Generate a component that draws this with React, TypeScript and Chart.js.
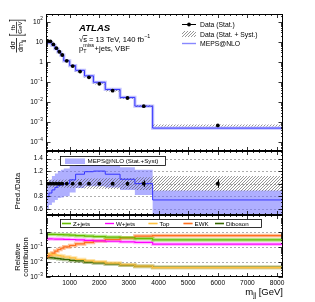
import React, { useEffect, useRef } from 'react';
import { Chart, registerables } from 'chart.js';

Chart.register(...registerables);

const FONT = '"Liberation Sans", Arial, Helvetica, sans-serif';

// ---------------- data ----------------
const binEdges = [200, 300, 400, 500, 600, 700, 800, 1000, 1200, 1500, 1800, 2200, 2700, 3200, 3800, 8200];
const dataXsec = [11.2, 10.5, 7.4, 4.8, 3.2, 2.2, 1.13, 0.62, 0.33, 0.17, 0.081, 0.037, 0.016, 0.0063, 0.00069];
const dataStatRel = [0.01, 0.01, 0.01, 0.01, 0.01, 0.012, 0.012, 0.014, 0.016, 0.02, 0.022, 0.027, 0.035, 0.05, 0.065];
const dataSystRel = [0.07, 0.06, 0.06, 0.06, 0.06, 0.06, 0.065, 0.07, 0.075, 0.08, 0.08, 0.085, 0.09, 0.1, 0.12];
const mepsXsec = [8.85, 8.93, 6.66, 4.51, 3.1, 2.16, 1.13, 0.657, 0.38, 0.202, 0.0972, 0.0426, 0.0171, 0.0063, 0.00051];
const ratioData = [1, 1, 1, 1, 1, 1, 1, 1, 1, 1, 1, 1, 1, 1, 1];
const ratioMeps = [0.79, 0.85, 0.9, 0.94, 0.97, 0.98, 1.0, 1.06, 1.15, 1.19, 1.2, 1.15, 1.07, 1.0, 0.74];
const ratioMepsLo = [0.6, 0.66, 0.7, 0.74, 0.77, 0.78, 0.8, 0.86, 0.93, 0.96, 0.96, 0.94, 0.9, 0.82, 0.47];
const ratioMepsHi = [1.02, 1.06, 1.12, 1.16, 1.2, 1.22, 1.24, 1.28, 1.3, 1.3, 1.3, 1.28, 1.26, 1.22, 0.89];
const fracZjets = [0.74, 0.73, 0.72, 0.71, 0.7, 0.69, 0.67, 0.64, 0.6, 0.56, 0.52, 0.47, 0.43, 0.38, 0.31];
const fracWjets = [0.36, 0.36, 0.355, 0.35, 0.35, 0.345, 0.34, 0.33, 0.31, 0.29, 0.27, 0.25, 0.23, 0.21, 0.16];
const fracTop = [0.036, 0.034, 0.031, 0.029, 0.027, 0.025, 0.022, 0.019, 0.015, 0.012, 0.0105, 0.0085, 0.0066, 0.0053, 0.0043];
const fracEWK = [0.022, 0.03, 0.04, 0.055, 0.07, 0.085, 0.105, 0.13, 0.165, 0.21, 0.26, 0.33, 0.42, 0.55, 0.6];
const fracDiboson = [0.021, 0.02, 0.019, 0.018, 0.017, 0.016, 0.015, 0.013, 0.012, 0.01, 0.0088, 0.0075, 0.0062, 0.0052, 0.0044];

const xTickValues = [1000, 2000, 3000, 4000, 5000, 6000, 7000, 8000];
const xTickLabels = ['1000', '2000', '3000', '4000', '5000', '6000', '7000', '8000'];
const topYTicks = [100, 10, 1, 0.1, 0.01, 0.001, 0.0001];
const topYTickLabels: [string, string][] = [['10', '2'], ['10', ''], ['1', ''], ['10', '\u22121'], ['10', '\u22122'], ['10', '\u22123'], ['10', '\u22124']];
const ratioYTicks = [0.6, 0.8, 1, 1.2, 1.4];
const ratioYTickLabels: [string, string][] = [['0.6', ''], ['0.8', ''], ['1', ''], ['1.2', ''], ['1.4', '']];
const relYTicks = [1, 0.1, 0.01, 0.001];
const relYTickLabels: [string, string][] = [['1', ''], ['10', '\u22121'], ['10', '\u22122'], ['10', '\u22123']];

// ---------------- styles ----------------
const MEPS_LINE = '#3434ff';
const MEPS_BAND = 'rgba(110,110,255,0.55)';
const MEPS_HALO = 'rgba(90,90,255,0.35)';
const REL_STYLE = [
  { name: 'Z+jets', values: fracZjets, line: '#66bb00', band: 'rgba(120,210,40,0.55)' },
  { name: 'W+jets', values: fracWjets, line: '#ff00ff', band: 'rgba(255,60,255,0.35)' },
  { name: 'Top', values: fracTop, line: '#ffc040', band: 'rgba(255,205,100,0.55)' },
  { name: 'EWK', values: fracEWK, line: '#ff7020', band: 'rgba(255,130,50,0.5)' },
  { name: 'Diboson', values: fracDiboson, line: '#336600', band: 'rgba(70,110,10,0.45)' },
];

const binCenters = binEdges.slice(0, -1).map((e, i) => (e + binEdges[i + 1]) / 2);
function stepData(values: number[]) {
  const pts = values.map((v, i) => ({ x: binEdges[i], y: v }));
  pts.push({ x: binEdges[binEdges.length - 1], y: values[values.length - 1] });
  return pts;
}
function pointData(values: number[]) {
  return values.map((v, i) => ({ x: binCenters[i], y: v }));
}

function makeHatch(ctx: CanvasRenderingContext2D) {
  const c = document.createElement('canvas');
  c.width = 3;
  c.height = 3;
  const g = c.getContext('2d')!;
  g.strokeStyle = 'rgba(90,90,90,0.9)';
  g.lineWidth = 0.7;
  g.beginPath();
  g.moveTo(0, 3); g.lineTo(3, 0);
  g.moveTo(-1, 1); g.lineTo(1, -1);
  g.moveTo(2, 4); g.lineTo(4, 2);
  g.stroke();
  return ctx.createPattern(c, 'repeat')!;
}

function txt(ctx: CanvasRenderingContext2D, s: string, x: number, y: number, size: number, align: CanvasTextAlign = 'left', style = '') {
  ctx.font = `${style}${size}px ${FONT}`;
  ctx.textAlign = align;
  ctx.fillText(s, x, y);
  return ctx.measureText(s).width;
}

function tickLabel(ctx: CanvasRenderingContext2D, base: string, sup: string, xRight: number, y: number, size: number) {
  ctx.font = `${size}px ${FONT}`;
  const wb = ctx.measureText(base).width;
  ctx.font = `${size * 0.72}px ${FONT}`;
  const ws = sup ? ctx.measureText(sup).width : 0;
  const x0 = xRight - wb - ws;
  ctx.textAlign = 'left';
  ctx.textBaseline = 'middle';
  ctx.font = `${size}px ${FONT}`;
  ctx.fillText(base, x0, y);
  if (sup) {
    ctx.font = `${size * 0.72}px ${FONT}`;
    ctx.fillText(sup, x0 + wb, y - size * 0.42);
  }
  ctx.textBaseline = 'alphabetic';
}

type FrameSpec = {
  log: boolean;
  yMajor: number[];
  yLabels: [string, string][];
  yMinorStep?: number;
  grid?: number[];
};

function logMinors(min: number, max: number) {
  const out: number[] = [];
  for (let d = Math.floor(Math.log10(min)); d <= Math.ceil(Math.log10(max)); d++) {
    for (let k = 2; k <= 9; k++) {
      const v = k * Math.pow(10, d);
      if (v > min && v < max) out.push(v);
    }
  }
  return out;
}

function drawGrid(chart: any, spec: FrameSpec) {
  if (!spec.grid) return;
  const { ctx, chartArea: a } = chart;
  const ys = chart.scales.y;
  ctx.save();
  ctx.strokeStyle = '#9a9a9a';
  ctx.lineWidth = 0.8;
  ctx.setLineDash([2, 2]);
  for (const g of spec.grid) {
    const y = Math.round(ys.getPixelForValue(g)) + 0.5;
    ctx.beginPath();
    ctx.moveTo(a.left, y);
    ctx.lineTo(a.right, y);
    ctx.stroke();
  }
  ctx.restore();
}

function drawFrame(chart: any, spec: FrameSpec) {
  const { ctx, chartArea: a } = chart;
  const xs = chart.scales.x;
  const ys = chart.scales.y;
  ctx.save();
  ctx.strokeStyle = '#000';
  ctx.fillStyle = '#000';
  ctx.lineWidth = 1;
  ctx.strokeRect(a.left + 0.5, a.top + 0.5, a.right - a.left - 1, a.bottom - a.top - 1);
  ctx.lineWidth = 0.8;
  ctx.beginPath();
  for (let v = 400; v < 8200; v += 200) {
    const x = Math.round(xs.getPixelForValue(v)) + 0.5;
    const len = v % 1000 === 0 ? 4 : 2;
    ctx.moveTo(x, a.bottom); ctx.lineTo(x, a.bottom - len);
    ctx.moveTo(x, a.top); ctx.lineTo(x, a.top + len);
  }
  const minors = spec.log ? logMinors(ys.min, ys.max) : [] as number[];
  if (!spec.log && spec.yMinorStep) {
    for (let v = Math.ceil(ys.min / spec.yMinorStep) * spec.yMinorStep; v < ys.max; v += spec.yMinorStep) minors.push(v);
  }
  for (const v of minors) {
    const y = Math.round(ys.getPixelForValue(v)) + 0.5;
    ctx.moveTo(a.left, y); ctx.lineTo(a.left + 2, y);
    ctx.moveTo(a.right, y); ctx.lineTo(a.right - 2, y);
  }
  for (const v of spec.yMajor) {
    const y = Math.round(ys.getPixelForValue(v)) + 0.5;
    ctx.moveTo(a.left, y); ctx.lineTo(a.left + 4.5, y);
    ctx.moveTo(a.right, y); ctx.lineTo(a.right - 4.5, y);
  }
  ctx.stroke();
  spec.yMajor.forEach((v, i) => {
    const y = ys.getPixelForValue(v);
    tickLabel(ctx, spec.yLabels[i][0], spec.yLabels[i][1], a.left - 3, y, 6.6);
  });
  ctx.restore();
}

function drawErrorBars(chart: any, values: number[], rel: number[]) {
  const { ctx } = chart;
  const xs = chart.scales.x;
  const ys = chart.scales.y;
  ctx.save();
  ctx.strokeStyle = '#000';
  ctx.lineWidth = 1;
  ctx.beginPath();
  values.forEach((v, i) => {
    const e = rel[i] * v;
    const x = Math.round(xs.getPixelForValue(binCenters[i])) + 0.5;
    ctx.moveTo(x, ys.getPixelForValue(v - e));
    ctx.lineTo(x, ys.getPixelForValue(v + e));
  });
  ctx.stroke();
  ctx.restore();
}

function baseOptions(pad: any, y: any) {
  return {
    responsive: false,
    animation: false as const,
    devicePixelRatio: 1,
    events: [] as any[],
    layout: { padding: pad },
    plugins: { legend: { display: false }, tooltip: { enabled: false } },
    scales: {
      x: { type: 'linear' as const, min: 200, max: 8200, display: false },
      y: { ...y, display: false },
    },
    elements: { line: { tension: 0 } },
  };
}

function lineDs(data: any[], extra: any) {
  return { data, stepped: 'before', pointRadius: 0, borderWidth: 0, borderColor: 'transparent', fill: false, ...extra };
}

export default function App() {
  const r1 = useRef<HTMLCanvasElement>(null);
  const r2 = useRef<HTMLCanvasElement>(null);
  const r3 = useRef<HTMLCanvasElement>(null);

  useEffect(() => {
    const charts: Chart[] = [];
    const hatch1 = makeHatch(r1.current!.getContext('2d')!);
    const hatch2 = makeHatch(r2.current!.getContext('2d')!);
    const hatchLegend = makeHatch(r1.current!.getContext('2d')!);

    const topSpec: FrameSpec = { log: true, yMajor: topYTicks, yLabels: topYTickLabels };
    const ratioSpec: FrameSpec = { log: false, yMajor: ratioYTicks, yLabels: ratioYTickLabels, yMinorStep: 0.05, grid: [0.6, 0.8, 1.0, 1.2, 1.4] };
    const relSpec: FrameSpec = { log: true, yMajor: relYTicks, yLabels: relYTickLabels, grid: [1, 0.1, 0.01] };

    // ---------- top panel ----------
    charts.push(new Chart(r1.current!, {
      type: 'line',
      data: {
        datasets: [
          { data: pointData(dataXsec), showLine: false, pointRadius: 1.9, pointBackgroundColor: '#000', pointBorderWidth: 0, order: 0 } as any,
          lineDs(stepData(mepsXsec), { borderColor: MEPS_LINE, borderWidth: 1, order: 1 }),
          lineDs(stepData(mepsXsec), { borderColor: MEPS_HALO, borderWidth: 3.2, order: 3 }),
          lineDs(stepData(dataXsec.map((v, i) => v * (1 - dataSystRel[i]))), { order: 2 }),
          lineDs(stepData(dataXsec.map((v, i) => v * (1 + dataSystRel[i]))), { fill: '-1', backgroundColor: hatch1, order: 2 }),
        ],
      },
      options: baseOptions({ left: 46, right: 32, top: 14, bottom: 151 }, { type: 'logarithmic', min: 3.7e-5, max: 241 }) as any,
      plugins: [{
        id: 'topDecor',
        afterDatasetsDraw(chart: any) {
          drawErrorBars(chart, dataXsec, dataStatRel);
        },
        afterDraw(chart: any) {
          const ctx = chart.ctx as CanvasRenderingContext2D;
          drawFrame(chart, topSpec);
          ctx.save();
          ctx.fillStyle = '#000';
          txt(ctx, 'ATLAS', 79, 30.5, 9.6, 'left', 'italic bold ');
          const x = 79;
          const w1 = txt(ctx, '\u221A', x, 41.5, 7.6);
          const ws = txt(ctx, 's', x + w1, 41.5, 7.6);
          ctx.fillRect(x + w1 - 0.3, 35.2, ws + 0.6, 0.7);
          const w3 = txt(ctx, ' = 13 TeV, 140 fb', x + w1 + ws, 41.5, 7.6);
          txt(ctx, '\u22121', x + w1 + ws + w3 + 0.3, 38, 5.4);
          const wp = txt(ctx, 'p', x, 51, 7.6);
          txt(ctx, 'T', x + wp, 53, 5.4);
          const wm = txt(ctx, 'miss', x + wp, 46.8, 5.4);
          txt(ctx, '+jets, VBF', x + wp + wm + 0.3, 51, 7.6);
          // legend
          ctx.strokeStyle = '#000';
          ctx.lineWidth = 1;
          ctx.beginPath(); ctx.moveTo(182, 24.5); ctx.lineTo(196, 24.5); ctx.stroke();
          ctx.beginPath(); ctx.arc(189, 24.5, 1.9, 0, Math.PI * 2); ctx.fill();
          ctx.fillStyle = hatchLegend;
          ctx.fillRect(182, 31, 14, 6);
          ctx.strokeStyle = '#8888ff';
          ctx.lineWidth = 1.4;
          ctx.beginPath(); ctx.moveTo(182, 43.5); ctx.lineTo(196, 43.5); ctx.stroke();
          ctx.fillStyle = '#000';
          txt(ctx, 'Data (Stat.)', 200, 27, 6.8);
          txt(ctx, 'Data (Stat. + Syst.)', 200, 36.5, 6.8);
          txt(ctx, 'MEPS@NLO', 200, 46, 6.8);
          // y title: dσ/dm_jj [fb/GeV]
          ctx.translate(16.5, 36);
          ctx.rotate(-Math.PI / 2);
          ctx.fillRect(-16.5, -0.4, 14.5, 0.8);
          txt(ctx, 'd\u03C3', -9.2, -1.8, 7.2, 'center');
          ctx.font = `7.2px ${FONT}`;
          const wd = ctx.measureText('dm').width;
          txt(ctx, 'dm', -16, 6.4, 7.2, 'left');
          txt(ctx, 'jj', -16 + wd, 8.2, 5.2, 'left');
          ctx.fillRect(0.5, -7.5, 0.7, 16.5);
          ctx.fillRect(0.5, -7.5, 1.8, 0.7);
          ctx.fillRect(0.5, 8.3, 1.8, 0.7);
          ctx.fillRect(15.5, -7.5, 0.7, 16.5);
          ctx.fillRect(14.4, -7.5, 1.8, 0.7);
          ctx.fillRect(14.4, 8.3, 1.8, 0.7);
          ctx.fillRect(2.6, -0.4, 11.6, 0.7);
          txt(ctx, 'fb', 8.4, -1.6, 6.2, 'center');
          txt(ctx, 'GeV', 8.4, 5.8, 6.2, 'center');
          ctx.restore();
        },
      }],
    }));

    // ---------- ratio panel ----------
    charts.push(new Chart(r2.current!, {
      type: 'line',
      data: {
        datasets: [
          { data: pointData(ratioData), showLine: false, pointRadius: 1.9, pointBackgroundColor: '#000', pointBorderWidth: 0, order: 0 } as any,
          lineDs(stepData(ratioMeps), { borderColor: MEPS_LINE, borderWidth: 1, order: 1 }),
          lineDs(stepData(ratioData.map((v, i) => v - dataSystRel[i])), { order: 2 }),
          lineDs(stepData(ratioData.map((v, i) => v + dataSystRel[i])), { fill: '-1', backgroundColor: hatch2, order: 2 }),
          lineDs(stepData(ratioMepsLo), { order: 3 }),
          lineDs(stepData(ratioMepsHi), { fill: '-1', backgroundColor: MEPS_BAND, order: 3 }),
        ],
      },
      options: baseOptions({ left: 46, right: 32, top: 151, bottom: 87 }, { type: 'linear', min: 0.5, max: 1.52 }) as any,
      plugins: [{
        id: 'ratioDecor',
        beforeDatasetsDraw(chart: any) { drawGrid(chart, ratioSpec); },
        afterDatasetsDraw(chart: any) { drawErrorBars(chart, ratioData, dataStatRel); },
        afterDraw(chart: any) {
          const ctx = chart.ctx as CanvasRenderingContext2D;
          drawFrame(chart, ratioSpec);
          ctx.save();
          ctx.fillStyle = '#fff';
          ctx.fillRect(61, 157, 104, 8);
          ctx.strokeStyle = '#000';
          ctx.lineWidth = 0.8;
          ctx.strokeRect(60.5, 156.5, 105, 9);
          ctx.fillStyle = MEPS_BAND;
          ctx.fillRect(65, 158.5, 20, 5.5);
          ctx.fillStyle = '#000';
          txt(ctx, 'MEPS@NLO (Stat.+Syst)', 87.5, 163.3, 6.2);
          ctx.translate(20, 191);
          ctx.rotate(-Math.PI / 2);
          txt(ctx, 'Pred./Data', 0, 0, 7.6, 'center');
          ctx.restore();
        },
      }],
    }));

    // ---------- relative contribution panel ----------
    const relDatasets: any[] = [];
    REL_STYLE.forEach((s, k) => {
      relDatasets.push(lineDs(stepData(s.values), { borderColor: s.line, borderWidth: 1.2, order: 1 + k * 0.01 }));
      relDatasets.push(lineDs(stepData(s.values), { borderColor: s.band, borderWidth: 3.6, order: 2 + k * 0.01 }));
    });
    charts.push(new Chart(r3.current!, {
      type: 'line',
      data: { datasets: relDatasets },
      options: baseOptions({ left: 46, right: 32, top: 215, bottom: 25 }, { type: 'logarithmic', min: 1e-3, max: 14.5 }) as any,
      plugins: [{
        id: 'relDecor',
        beforeDatasetsDraw(chart: any) { drawGrid(chart, relSpec); },
        afterDraw(chart: any) {
          const ctx = chart.ctx as CanvasRenderingContext2D;
          const a = chart.chartArea;
          const xs = chart.scales.x;
          drawFrame(chart, relSpec);
          ctx.save();
          ctx.fillStyle = '#000';
          ctx.textBaseline = 'top';
          xTickValues.forEach((v, i) => {
            txt(ctx, xTickLabels[i], xs.getPixelForValue(v), a.bottom + 3, 6.6, 'center');
          });
          ctx.textBaseline = 'alphabetic';
          ctx.font = `9.5px ${FONT}`;
          const wG = ctx.measureText(' [GeV]').width;
          ctx.font = `6.5px ${FONT}`;
          const wj = ctx.measureText('jj').width;
          ctx.font = `9.5px ${FONT}`;
          const wm = ctx.measureText('m').width;
          const xr = a.right;
          txt(ctx, ' [GeV]', xr - wG, 295, 9.5);
          txt(ctx, 'jj', xr - wG - wj, 297, 6.5);
          txt(ctx, 'm', xr - wG - wj - wm, 295, 9.5);
          ctx.fillStyle = '#fff';
          ctx.fillRect(61, 220, 200, 7);
          ctx.strokeStyle = '#000';
          ctx.lineWidth = 0.8;
          ctx.strokeRect(60.5, 219.5, 201, 8);
          const lx = [62, 105, 148.5, 183.5, 215];
          REL_STYLE.forEach((s, k) => {
            ctx.strokeStyle = s.band;
            ctx.lineWidth = 2.4;
            ctx.beginPath(); ctx.moveTo(lx[k], 223.5); ctx.lineTo(lx[k] + 9, 223.5); ctx.stroke();
            ctx.strokeStyle = s.line;
            ctx.lineWidth = 1;
            ctx.beginPath(); ctx.moveTo(lx[k], 223.5); ctx.lineTo(lx[k] + 9, 223.5); ctx.stroke();
            ctx.fillStyle = '#000';
            txt(ctx, s.name, lx[k] + 11, 226, 6.2);
          });
          ctx.translate(19.5, 257);
          ctx.rotate(-Math.PI / 2);
          ctx.fillStyle = '#000';
          txt(ctx, 'Relative', 0, 0, 7.6, 'center');
          txt(ctx, 'contribution', 0, 8.5, 7.6, 'center');
          ctx.restore();
        },
      }],
    }));

    return () => charts.forEach((c) => c.destroy());
  }, []);

  const cs: React.CSSProperties = { position: 'absolute', left: 0, top: 0 };
  return (
    <div style={{ position: 'absolute', left: 0, top: 0, width: 315, height: 302, background: '#fff' }}>
      <canvas ref={r3} width={315} height={302} style={cs} />
      <canvas ref={r2} width={315} height={302} style={cs} />
      <canvas ref={r1} width={315} height={302} style={cs} />
    </div>
  );
}
